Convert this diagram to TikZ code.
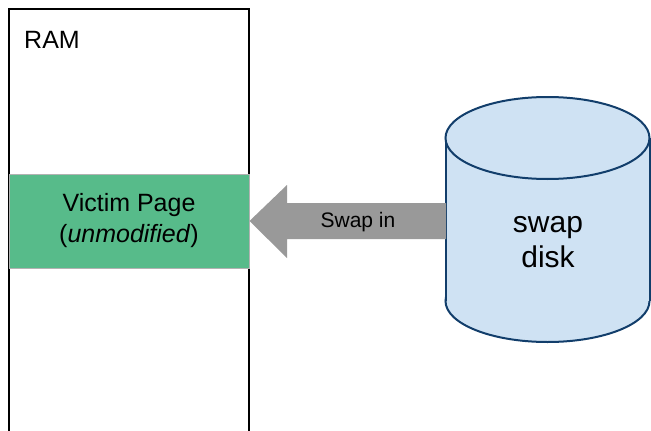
\documentclass[tikz,border=0pt]{standalone}
\usepackage{fontspec}
\setmainfont{Liberation Sans}
\usepackage{xcolor}
\usepackage{tikz}
\usetikzlibrary{arrows.meta}

\definecolor{pagegreen}{HTML}{57BB8A}
\definecolor{arrowgray}{HTML}{999999}
\definecolor{diskfill}{HTML}{CFE2F3}
\definecolor{diskline}{HTML}{123E6B}

\begin{document}
\begin{tikzpicture}[x=1pt,y=-1pt,
  pagebox/.style={fill=pagegreen,draw=black!30,line width=1pt,minimum width=240pt,
    minimum height=94pt,inner sep=0pt,align=center,font=\fontsize{25}{31}\selectfont},
  diskbody/.style={fill=diskfill,draw=diskline,line width=2pt}]
  \useasboundingbox (0,0) rectangle (651,431);
  % RAM column (open at the bottom)
  \draw[line width=1.5pt] (9,431) -- (9,9) -- (249,9) -- (249,431);
  \node[anchor=base west,font=\fontsize{25}{30}\selectfont,inner sep=0pt] (ram) at (24,48) {RAM};
  % Swap disk
  \draw[diskbody] (547.5,301) ellipse[x radius=102,y radius=41];
  \fill[diskfill] (445.5,138) rectangle (649.5,301);
  \draw[diskline,line width=2pt] (445.5,138) -- (445.5,301) (649.5,138) -- (649.5,301);
  \draw[diskbody] (547.5,138) ellipse[x radius=102,y radius=41];
  \node[align=center,font=\fontsize{30}{35}\selectfont] (disk) at (548,242) {swap\\disk};
  % Victim page
  \node[pagebox] (victim) at (129,221) {Victim Page\\(\textit{unmodified})};
  % Swap in arrow
  \fill[arrowgray] (victim.east) -- (287,185) -- (287,203) -- (446,203)
    -- (446,239) -- (287,239) -- (287,258) -- cycle;
  \node[font=\fontsize{21}{24}\selectfont] (swapin) at (358,222) {Swap in};
\end{tikzpicture}
\end{document}
